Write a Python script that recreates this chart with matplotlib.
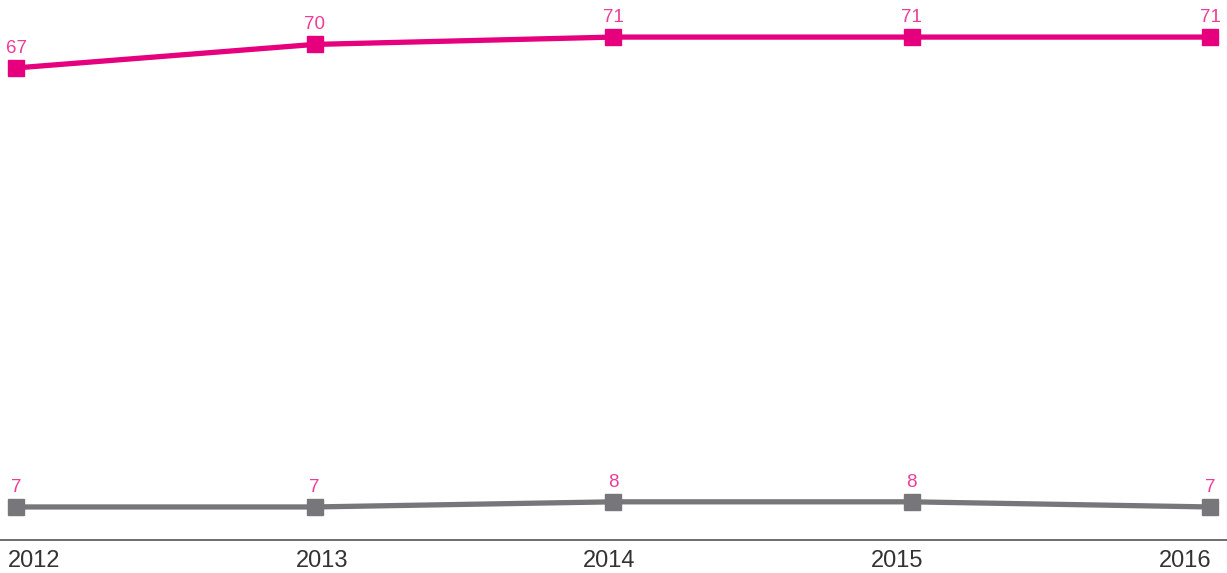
import numpy as np
import matplotlib
matplotlib.use("Agg")
import matplotlib.pyplot as plt

years = ["2012", "2013", "2014", "2015", "2016"]
magenta_vals = [66.8, 70.0, 71.0, 71.0, 71.0]
grey_vals = [7.0, 7.0, 7.7, 7.7, 7.0]

MAGENTA = "#e6007e"
LABEL_PINK = "#ee3d96"
GREY = "#77777b"

plt.rcParams["font.family"] = ["Liberation Sans Narrow", "Liberation Sans", "DejaVu Sans"]

fig = plt.figure(figsize=(12.27, 5.73), dpi=100)
ax = fig.add_axes([0, 33 / 573, 1, 540 / 573])

x = np.arange(len(years))
for vals, col in [(magenta_vals, MAGENTA), (grey_vals, GREY)]:
    ax.plot(x, vals, color=col, linewidth=3.8, marker="s", markersize=11.5,
            solid_capstyle="butt", zorder=3)
    for xi, v in zip(x, vals):
        ax.annotate("%.0f" % v, (xi, v), xytext=(0, 8), textcoords="offset points",
                    ha="center", va="bottom", color=LABEL_PINK, fontsize=13.5)

ax.set_xlim(-0.054, 4.057)
ax.set_ylim(2.5, 76.05)

# category labels sit slightly off the data points, as in the original
ax.set_xticks(x * 0.964 + 0.06)
ax.set_xticklabels(years, fontsize=17, color="#333333")
ax.tick_params(axis="x", length=0, pad=7)
ax.set_yticks([])

for s in ["top", "left", "right"]:
    ax.spines[s].set_visible(False)
ax.spines["bottom"].set_color("#555555")
ax.spines["bottom"].set_linewidth(1.2)

fig.savefig("out.png", dpi=100)
